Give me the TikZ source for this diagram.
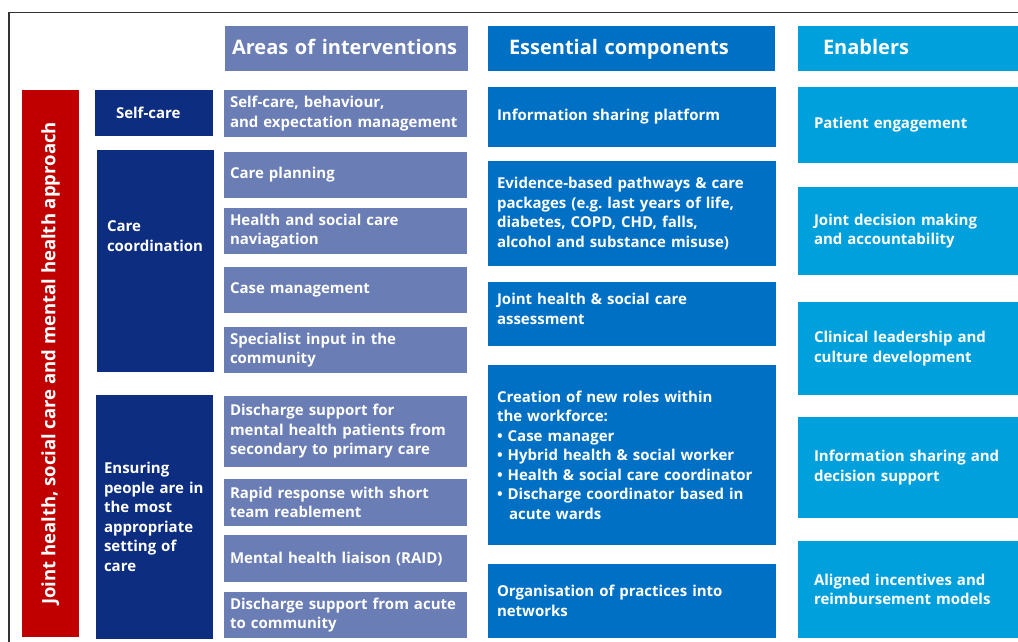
\documentclass[tikz,border=0pt]{standalone}
\usepackage{fontspec}
\setmainfont{Open Sans}
\definecolor{approachred}{RGB}{192,0,0}
\definecolor{focusnavy}{RGB}{12,45,128}
\definecolor{areablue}{RGB}{106,125,180}
\definecolor{compblue}{RGB}{0,112,197}
\definecolor{enabblue}{RGB}{0,160,220}

\begin{document}
\begin{tikzpicture}[x=1pt, y=-1pt]
    \tikzstyle{box}=[rectangle, anchor=north west, outer sep=0pt, inner ysep=0pt, text=white, align=left, font=\bfseries\fontsize{15}{19.5}\selectfont]
    \tikzstyle{head box}=[box, font=\bfseries\fontsize{20}{22}\selectfont, minimum height=45pt, text height=17pt, text depth=4pt]
    \tikzstyle{focus}=[box, fill=focusnavy]
    \tikzstyle{area}=[box, fill=areablue, minimum width=243pt, inner xsep=6pt, text width=231pt]
    \tikzstyle{comp}=[box, fill=compblue, minimum width=288pt, inner xsep=9pt, text width=270pt]
    \tikzstyle{enab}=[box, fill=enabblue, minimum width=220pt, inner xsep=16pt, text width=188pt]

    \useasboundingbox (0,0) rectangle (1018,642);

    % frame, cut off at the right and bottom
    \coordinate (frame-top) at (1018,12.5);
    \coordinate (frame-corner) at (9,12.5);
    \coordinate (frame-bottom) at (9,642);
    \draw[line width=1.3pt, black!80] (frame-bottom) -- (frame-corner) -- (frame-top);

    % column headers
    \node[head box, fill=areablue, minimum width=243pt, inner xsep=7pt, text width=229pt] (head-area) at (225,26) {Areas of interventions};
    \node[head box, fill=compblue, minimum width=287pt, inner xsep=21pt, text width=245pt] (head-comp) at (488,26) {Essential components};
    \node[head box, fill=enabblue, minimum width=220pt, inner xsep=25pt, text width=170pt] (head-enab) at (798,26) {Enablers};

    % approach bar
    \node[box, fill=approachred, anchor=center, rotate=90, align=center, minimum width=547pt, minimum height=57pt, font=\bfseries\fontsize{18.5}{21}\selectfont] (approach) at (50.5,363.5) {Joint health, social care and mental health approach};

    % focus boxes
    \node[focus, minimum width=118pt, minimum height=46pt, inner xsep=21pt, text width=76pt] (focus-self) at (95,90) {Self-care};
    \node[focus, minimum width=117pt, minimum height=222pt, inner xsep=10pt, text width=97pt] (focus-coord) at (97,150) {Care\\coordination\\[30pt]\mbox{}};
    \node[focus, minimum width=117pt, minimum height=244pt, inner xsep=8pt, text width=101pt] (focus-setting) at (96,395) {Ensuring\\people are in\\the most\\appropriate\\setting of\\care};

    % areas of interventions
    \foreach \n/\y/\h/\t in {1/90/47/{Self-care, behaviour,\\and expectation management},
        2/152/46/{Care planning},
        3/208/46/{Health and social care\\naviagation},
        4/267/46/{Case management},
        5/327/46/{Specialist input in the\\community},
        6/396/71/{Discharge support for\\mental health patients from\\secondary to primary care},
        7/479/47/{Rapid response with short\\team reablement},
        8/535/47/{Mental health liaison (RAID)},
        9/592/46/{Discharge support from acute\\to community}}
    \node[area, minimum height=\h pt] (area-\n) at (224,\y) {\t};

    % essential components
    \foreach \n/\y/\h/\t in {1/87/60/{Information sharing platform},
        2/161/105/{Evidence-based pathways \& care\\packages (e.g.\ last years of life,\\diabetes, COPD, CHD, falls,\\alcohol and substance misuse)},
        3/282/64/{Joint health \& social care\\assessment\\[-9pt]\mbox{}},
        4/365/180/{Creation of new roles within\\the workforce:\\\textbullet{} Case manager\\\textbullet{} Hybrid health \& social worker\\\textbullet{} Health \& social care coordinator\\\textbullet{} Discharge coordinator based in\\\hspace*{12pt}acute wards},
        5/564/74/{Organisation of practices into\\networks}}
    \node[comp, minimum height=\h pt] (comp-\n) at (488,\y) {\t};

    % enablers
    \foreach \n/\y/\h/\t in {1/87/76/{Patient engagement},
        2/187/88/{Joint decision making\\and accountability},
        3/302/93/{Clinical leadership and\\culture development},
        4/417/101/{Information sharing and\\decision support},
        5/541/97/{Aligned incentives and\\reimbursement models}}
    \node[enab, minimum height=\h pt] (enab-\n) at (798,\y) {\t};

\end{tikzpicture}
\end{document}
